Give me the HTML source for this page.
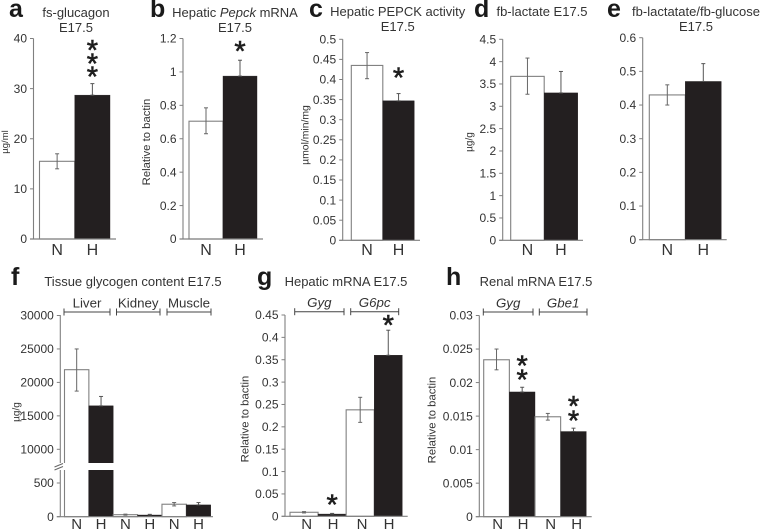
<!DOCTYPE html>
<html lang="en">
<head>
<meta charset="utf-8">
<title>Fetal metabolism E17.5 bar charts</title>
<style>
html,body{margin:0;padding:0;background:#fff;width:760px;height:530px;overflow:hidden}
svg{display:block;filter:blur(0.3px)}
text{font-family:"Liberation Sans",sans-serif;fill:#333}
</style>
</head>
<body>
<svg id="figure" width="760" height="530" viewBox="0 0 760 530" xmlns="http://www.w3.org/2000/svg"></svg>
<script>
// ---- Data ----
const aCategories = ["N", "H"];
const aValues = [15.5, 28.7];
const aHigh = [17, 31];
const aLow = [14, 28.7];
const aTicks = ["0", "10", "20", "30", "40"];

const bCategories = ["N", "H"];
const bValues = [0.705, 0.975];
const bHigh = [0.785, 1.07];
const bLow = [0.63, 0.975];
const bTicks = ["0", "0.2", "0.4", "0.6", "0.8", "1", "1.2"];

const cCategories = ["N", "H"];
const cValues = [0.435, 0.347];
const cHigh = [0.467, 0.365];
const cLow = [0.402, 0.347];
const cTicks = ["0", "0.05", "0.1", "0.15", "0.2", "0.25", "0.3", "0.35", "0.4", "0.45", "0.5"];

const dCategories = ["N", "H"];
const dValues = [3.67, 3.3];
const dHigh = [4.08, 3.78];
const dLow = [3.27, 3.3];
const dTicks = ["0", "0.5", "1", "1.5", "2", "2.5", "3", "3.5", "4", "4.5"];

const eCategories = ["N", "H"];
const eValues = [0.43, 0.47];
const eHigh = [0.46, 0.523];
const eLow = [0.4, 0.47];
const eTicks = ["0", "0.1", "0.2", "0.3", "0.4", "0.5", "0.6"];

const fCategories = ["N", "H", "N", "H", "N", "H"];
const fValues = [21900, 16500, 30, 25, 185, 175];
const fHigh = [25000, 17900, 38, 35, 210, 210];
const fLow = [18700, 16500, 22, 25, 160, 175];
const fTicks = ["0", "500", "10000", "15000", "20000", "25000", "30000"];

const gCategories = ["N", "H", "N", "H"];
const gValues = [0.009, 0.005, 0.238, 0.36];
const gHigh = [0.0105, 0.0065, 0.266, 0.416];
const gLow = [0.0075, 0.005, 0.21, 0.36];
const gTicks = ["0", "0.05", "0.1", "0.15", "0.2", "0.25", "0.3", "0.35", "0.4", "0.45"];

const hCategories = ["N", "H", "N", "H"];
const hValues = [0.0234, 0.0186, 0.0149, 0.0127];
const hHigh = [0.025, 0.0193, 0.0154, 0.0132];
const hLow = [0.0219, 0.0186, 0.0144, 0.0127];
const hTicks = ["0", "0.005", "0.01", "0.015", "0.02", "0.025", "0.03"];

// ---- Drawing helpers ----
const svg = document.getElementById('figure');
const NS = 'http://www.w3.org/2000/svg';
const AXIS = '#808080';
const BLACK = '#231f20';

function make(tag, name, props, parent) {
  const el = document.createElementNS(NS, tag);
  
  
  for (const k in props) el.setAttribute(k, props[k]);
  (parent || svg).appendChild(el);
  return el;
}
function line(name, x1, y1, x2, y2, stroke, w, parent) {
  return make('line', name, {x1: x1, y1: y1, x2: x2, y2: y2, stroke: stroke, 'stroke-width': w}, parent);
}
function label(name, str, x, y, size, props, parent) {
  const el = make('text', name, Object.assign({x: x, y: y, 'font-size': size}, props || {}), parent);
  el.textContent = str;
  return el;
}
function rotated(name, str, x, y, size, parent) {
  return label(name, str, x, y, size, {transform: 'rotate(-90 ' + x + ' ' + y + ')', 'text-anchor': 'middle', 'dominant-baseline': 'central'}, parent);
}

function drawPanel(p) {
  const g = make('g', 'panel-' + p.id, {});
  const y = p.scale;
  // title
  label('panel-letter-' + p.id, p.id, p.letterX, p.letterY, 25, {'font-weight': 'bold', style: 'fill:#1a1a1a'}, g);
  p.title.forEach(function (t, i) {
    const el = make('text', 'panel-title-' + p.id, {x: p.titleX, y: p.titleY + i * 15, 'font-size': 13, 'text-anchor': 'middle'}, g);
    t.forEach(function (part) {
      const s = make('tspan', 'title-part', part[1] ? {'font-style': 'italic'} : {}, el);
      s.textContent = part[0];
    });
  });
  // y axis title
  if (p.yTitle) rotated('y-axis-title-' + p.id, p.yTitle, p.yTitleX, p.yTitleY, p.yTitleSize, g);

  // bars
  const n = p.values.length;
  const band = (p.x1 - p.x0) / n;
  p.values.forEach(function (v, i) {
    const left = p.x0 + i * band;
    const top = y(v);
    const black = p.categories[i] === 'H';
    make('rect', 'bar-' + p.id + '-' + i, {
      x: left, y: top, width: band, height: p.y0 - top,
      fill: black ? BLACK : '#fff',
      stroke: black ? BLACK : AXIS, 'stroke-width': black ? 0.4 : 1.1
    }, g);
    const cx = left + band / 2;
    const ec = black ? '#555' : '#666';
    line('error-bar-' + p.id + '-' + i, cx, y(p.high[i]), cx, y(p.low[i]), ec, 1, g);
    line('error-cap-high-' + p.id + '-' + i, cx - 2, y(p.high[i]), cx + 2, y(p.high[i]), ec, 1, g);
    line('error-cap-low-' + p.id + '-' + i, cx - 2, y(p.low[i]), cx + 2, y(p.low[i]), ec, 1, g);
    label('x-tick-label-' + p.id + '-' + i, p.categories[i], p.labelCenters ? p.labelCenters[i] : cx, p.labelY, p.labelSize, {'text-anchor': 'middle'}, g);
  });

  // axes
  line('y-axis-' + p.id, p.axisX, p.top, p.axisX, p.y0, AXIS, 1.1, g);
  line('x-axis-' + p.id, p.axisX - 3.5, p.y0, p.axisEnd, p.y0, AXIS, 1.2, g);
  p.ticks.forEach(function (t) {
    const ty = y(parseFloat(t));
    line('y-tick-' + p.id, p.axisX - 3.5, ty, p.axisX, ty, AXIS, 1, g);
    label('y-tick-label-' + p.id, t, p.axisX - 6.5, ty + 4.2, p.tickSize || 12, {'text-anchor': 'end'}, g);
  });

  // significance stars
  (p.stars || []).forEach(function (s) {
    const cx = p.x0 + (s.index + 0.5) * band;
    for (let k = 0; k < s.count; k++) {
      const cy = y(p.high[s.index]) - s.gap - k * s.step;
      label('significance-star-' + p.id, '*', cx, cy + 13, 29, {'text-anchor': 'middle', style: 'fill:#1f1f1f;stroke:#1f1f1f;stroke-width:.6'}, g);
    }
  });

  // group brackets
  (p.brackets || []).forEach(function (b) {
    line('bracket-' + p.id, b.from, p.bracketY, b.to, p.bracketY, '#444', 1, g);
    line('bracket-end-' + p.id, b.from, p.bracketY - 3.5, b.from, p.bracketY + 3.5, '#444', 1, g);
    line('bracket-end-' + p.id, b.to, p.bracketY - 3.5, b.to, p.bracketY + 3.5, '#444', 1, g);
    label('bracket-label-' + p.id, b.text, (b.from + b.to) / 2, p.bracketY - 4.5, 13.3, {'text-anchor': 'middle', 'font-style': b.italic ? 'italic' : 'normal'}, g);
  });
  return g;
}
function linear(d1, r0, r1) {
  return function (v) { return r0 + (r1 - r0) * v / d1; };
}

// ---- Panels ----
drawPanel({id: 'a', categories: aCategories, values: aValues, high: aHigh, low: aLow, ticks: aTicks,
  scale: linear(40, 239, 38.5), x0: 39.5, x1: 110, axisX: 33.5, axisEnd: 116, top: 38.5, y0: 239,
  letterX: 9, letterY: 17, title: [[['fs-glucagon']], [['E17.5']]], titleX: 76, titleY: 17,
  yTitle: 'µg/ml', yTitleX: 5.5, yTitleY: 142, yTitleSize: 9.5, labelY: 255, labelSize: 16,
  stars: [{index: 1, count: 3, gap: 10, step: 13.3}]});

drawPanel({id: 'b', categories: bCategories, values: bValues, high: bHigh, low: bLow, ticks: bTicks,
  scale: linear(1.2, 239, 38.5), x0: 189, x1: 257, axisX: 183, axisEnd: 263, top: 38.5, y0: 239,
  letterX: 150, letterY: 17, title: [[['Hepatic '], ['Pepck', 1], [' mRNA']], [['E17.5']]], titleX: 235, titleY: 17,
  yTitle: 'Relative to bactin', yTitleX: 147, yTitleY: 142, yTitleSize: 11.3, labelY: 255, labelSize: 16,
  stars: [{index: 1, count: 1, gap: 12, step: 0}]});

drawPanel({id: 'c', categories: cCategories, values: cValues, high: cHigh, low: cLow, ticks: cTicks,
  scale: linear(0.5, 240.3, 39.3), x0: 351.3, x1: 414.3, axisX: 342.7, axisEnd: 420, top: 39.3, y0: 240.3,
  letterX: 309, letterY: 17, title: [[['Hepatic PEPCK activity']], [['E17.5']]], titleX: 397.7, titleY: 16,
  yTitle: 'µmol/min/mg', yTitleX: 306, yTitleY: 135, yTitleSize: 10.4, labelY: 255, labelSize: 16,
  stars: [{index: 1, count: 1, gap: 19, step: 0}]});

drawPanel({id: 'd', categories: dCategories, values: dValues, high: dHigh, low: dLow, ticks: dTicks,
  scale: linear(4.5, 240.3, 39.3), x0: 510.7, x1: 577.7, axisX: 502.7, axisEnd: 583, top: 39.3, y0: 240.3,
  letterX: 474, letterY: 17, title: [[['fb-lactate E17.5']]], titleX: 542, titleY: 16,
  yTitle: 'µg/g', yTitleX: 470, yTitleY: 142, yTitleSize: 10, labelY: 255, labelSize: 16});

drawPanel({id: 'e', categories: eCategories, values: eValues, high: eHigh, low: eLow, ticks: eTicks,
  scale: linear(0.6, 239.7, 37.7), x0: 649.3, x1: 721.3, axisX: 642.7, axisEnd: 726.7, top: 37.7, y0: 239.7,
  letterX: 607, letterY: 17, title: [[['fb-lactatate/fb-glucose']], [['E17.5']]], titleX: 696, titleY: 16,
  yTitle: '', yTitleX: 620, yTitleY: 140, yTitleSize: 10, labelY: 255, labelSize: 16});

// broken axis: lower segment 0-1000 region, upper segment from 10000 upward
const fScale = function (v) {
  if (v <= 1000) return 516.7 - v / 500 * 33.7;
  return 449.3 - (v - 10000) / 5000 * 33.45;
};
const fPanel = drawPanel({id: 'f', categories: fCategories, values: fValues, high: fHigh, low: fLow, ticks: fTicks,
  scale: fScale, x0: 64.5, x1: 210.7, axisX: 60.3, axisEnd: 213, top: 315, y0: 516.7,
  letterX: 11, letterY: 285, title: [[['Tissue glycogen content E17.5']]], titleX: 133, titleY: 286,
  yTitle: 'µg/g', yTitleX: 17, yTitleY: 412, yTitleSize: 10, labelY: 529, labelSize: 15,
  bracketY: 312,
  brackets: [{from: 64, to: 110, text: 'Liver'}, {from: 116.5, to: 160, text: 'Kidney'}, {from: 167, to: 211, text: 'Muscle'}]});
make('rect', 'axis-break-gap', {x: 58, y: 463, width: 60, height: 7, fill: '#fff'}, fPanel);
line('axis-break-mark-upper', 54.5, 467, 63, 463.5, '#666', 1, fPanel);
line('axis-break-mark-lower', 54.5, 470, 63, 466.5, '#666', 1, fPanel);

drawPanel({id: 'g', categories: gCategories, values: gValues, high: gHigh, low: gLow, ticks: gTicks,
  scale: linear(0.45, 516.3, 315), x0: 290, x1: 402.3, axisX: 285, axisEnd: 407.7, top: 315, y0: 516.3,
  letterX: 257, letterY: 285, title: [[['Hepatic mRNA E17.5']]], titleX: 346, titleY: 286,
  yTitle: 'Relative to bactin', yTitleX: 245.7, yTitleY: 419, yTitleSize: 11.3, labelY: 529, labelSize: 15,
  labelCenters: [306.7, 333, 362, 389],
  bracketY: 311.7,
  brackets: [{from: 294.7, to: 344, text: 'Gyg', italic: true}, {from: 350.7, to: 398.7, text: 'G6pc', italic: true}],
  stars: [{index: 1, count: 1, gap: 12, step: 0}, {index: 3, count: 1, gap: 8, step: 0}]});

drawPanel({id: 'h', categories: hCategories, values: hValues, high: hHigh, low: hLow, ticks: hTicks,
  scale: linear(0.03, 516.7, 315.5), x0: 483.7, x1: 586.3, axisX: 479.3, axisEnd: 591.7, top: 315.5, y0: 516.7,
  letterX: 446, letterY: 285, title: [[['Renal mRNA E17.5']]], titleX: 536, titleY: 286,
  yTitle: 'Relative to bactin', yTitleX: 432.7, yTitleY: 420, yTitleSize: 11.3, labelY: 529, labelSize: 15,
  labelCenters: [497.7, 523, 550.7, 576.7],
  bracketY: 312,
  brackets: [{from: 483.3, to: 533, text: 'Gyg', italic: true}, {from: 539.3, to: 587, text: 'Gbe1', italic: true}],
  stars: [{index: 1, count: 2, gap: 11, step: 14}, {index: 3, count: 2, gap: 10.5, step: 14.5}]});
</script>
</body>
</html>
